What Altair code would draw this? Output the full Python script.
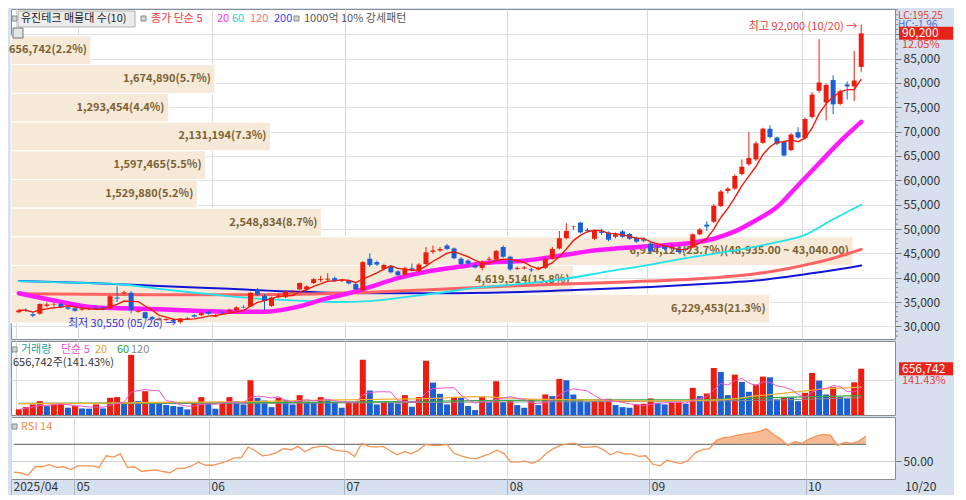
import altair as alt
import pandas as pd
import numpy as np

FONT = "Noto Sans CJK KR"
RED = "#ee1c0e"
BLUE = "#1a5fd4"

# ---------------- data ----------------
month_bounds = [-0.4, 8.5, 27.5, 46.5, 69.5, 89.5, 111.5]
month_labels = ["2025/04", "05", "06", "07", "08", "09", "10"]
last_date = "10/20"
hi_date = "10/20"
lo_date = "05/26"

opens = [
    32900, 33400, 32500, 32600, 34200, 34400, 34600, 33900, 33700, 33400,
    33500, 33800, 33900, 33700, 35900, 36800, 36900, 33000, 32900, 31900,
    31400, 31300, 31300, 30900, 31700, 32300, 32300, 33000, 32000, 32800,
    33000, 33300, 34000, 34100, 37600, 36300, 34200, 36000, 36000, 37000,
    37600, 37600, 38900, 39500, 39600, 39900, 39300, 39400, 38700, 37400,
    43900, 43200, 41800, 42400, 41300, 40600, 41900, 41300, 42800, 45300,
    45600, 46600, 46000, 43900, 43500, 42600, 42000, 43700, 43700, 46300,
    44300, 41800, 41900, 41700, 41700, 42000, 43900, 46000, 48100, 50500,
    51300, 49800, 48000, 49500, 49300, 48400, 49500, 49000, 48200, 47900,
    47000, 46400, 46500, 46100, 45900, 45900, 46300, 48900, 50900, 51500,
    54700, 57800, 58300, 61300, 63300, 64300, 67700, 70600, 68800, 67900,
    66200, 69900, 68700, 73000, 78400, 76000, 80600, 75700, 79700, 79300,
    83300]
highs = [
    33500, 33700, 32900, 34700, 34900, 34900, 35000, 34200, 33900, 33800,
    33900, 34100, 34000, 36400, 38200, 37300, 37200, 33500, 33000, 32100,
    31800, 31700, 31500, 31700, 31900, 32500, 32900, 33200, 32500, 33200,
    33600, 34100, 34300, 37000, 37900, 36600, 36100, 36700, 37500, 37500,
    39000, 38400, 39900, 40400, 40900, 40200, 39700, 39600, 38900, 43400,
    45000, 43500, 42900, 42600, 41500, 42300, 42900, 43000, 46300, 46600,
    46300, 46900, 46200, 44200, 43800, 42900, 43600, 44300, 45700, 46600,
    44500, 42300, 42400, 42000, 42300, 44200, 46300, 49600, 51200, 50700,
    51500, 50200, 49800, 50000, 49500, 49300, 49800, 49200, 48400, 48200,
    47300, 46900, 46700, 46700, 46100, 46200, 49100, 50200, 51600, 55100,
    58000, 58600, 61200, 64300, 69900, 68000, 70800, 71300, 69000, 68200,
    69700, 70900, 72900, 78100, 89000, 79900, 81600, 78600, 80300, 86600,
    92000]
lows = [
    32700, 33000, 31900, 32400, 33900, 34100, 33700, 33400, 33000, 33200,
    33300, 33400, 33300, 33500, 35000, 36600, 32700, 32800, 31500, 31300,
    31200, 31100, 30800, 30550, 31400, 31800, 32100, 32400, 31900, 32500,
    32800, 33200, 33700, 34000, 36200, 33300, 34000, 35800, 35800, 36800,
    37400, 37300, 38700, 39100, 39300, 39100, 39100, 38600, 37400, 37300,
    42200, 42400, 41500, 40900, 40300, 40400, 41300, 41100, 42600, 44900,
    45300, 45700, 43800, 42500, 42600, 41900, 41500, 43400, 43500, 44100,
    41400, 41600, 41700, 41100, 41500, 41800, 43700, 45800, 47900, 49800,
    49100, 49300, 47700, 48800, 47500, 48100, 48200, 47800, 47200, 47300,
    45100, 45500, 45600, 45600, 45100, 45400, 46100, 48700, 49600, 51200,
    54500, 57300, 58000, 61000, 63000, 64000, 67500, 68600, 67200, 64900,
    66000, 68500, 68400, 72700, 78000, 72300, 73600, 75400, 76600, 76300,
    82300]
closes = [
    33300, 33300, 32200, 34600, 34500, 34500, 33900, 33600, 33200, 33600,
    33600, 33600, 33500, 36200, 35700, 37000, 33300, 33200, 31700, 31500,
    31600, 31500, 31000, 31600, 31600, 32000, 32700, 32600, 32300, 32700,
    33400, 33900, 33900, 36900, 36500, 35200, 35900, 36300, 37200, 37100,
    38900, 38200, 39700, 39700, 39800, 39300, 39500, 38800, 37600, 43200,
    42600, 42700, 42600, 41100, 40500, 41900, 41500, 42700, 45200, 45600,
    45900, 45900, 44000, 42800, 42900, 42100, 43200, 43900, 45500, 44300,
    41700, 42000, 42100, 41500, 42000, 43900, 45900, 48100, 49600, 50600,
    49300, 49600, 49600, 49200, 47800, 48900, 48400, 48000, 47400, 47600,
    45400, 46200, 45900, 46000, 45300, 45700, 48900, 49900, 50500, 54800,
    57700, 58300, 60900, 62800, 64600, 67600, 70600, 68900, 67500, 65100,
    69400, 68800, 72600, 77600, 80100, 79600, 75600, 78300, 79300, 80500,
    90200]
volumes = [
    80000, 112000, 150000, 197000, 126000, 150000, 155000, 103000, 126000, 93000,
    90000, 150000, 93000, 244000, 254000, 174000, 854000, 197000, 338000, 174000,
    160000, 141000, 127000, 117000, 80000, 174000, 254000, 160000, 89000, 174000,
    254000, 197000, 150000, 493000, 244000, 207000, 112000, 244000, 216000, 150000,
    282000, 190000, 170000, 254000, 216000, 183000, 103000, 174000, 188000, 784000,
    347000, 150000, 180000, 172000, 165000, 282000, 117000, 254000, 770000, 460000,
    300000, 150000, 254000, 244000, 127000, 70000, 254000, 188000, 479000, 183000,
    197000, 141000, 103000, 221000, 141000, 291000, 268000, 512000, 493000, 291000,
    221000, 183000, 202000, 207000, 230000, 141000, 112000, 103000, 150000, 160000,
    235000, 174000, 150000, 174000, 178000, 160000, 385000, 268000, 305000, 667000,
    610000, 282000, 573000, 470000, 329000, 432000, 545000, 535000, 221000, 254000,
    250000, 197000, 315000, 596000, 488000, 291000, 395000, 254000, 235000, 464355,
    656742]
rsi14 = [
    36.8, 35.7, 33.0, 43.2, 43.2, 45.8, 42.4, 43.2, 39.8, 44.3,
    44.3, 44.3, 42.4, 56.4, 54.9, 58.7, 42.4, 43.2, 37.5, 38.7,
    39.4, 37.5, 36.0, 41.3, 41.3, 44.3, 48.8, 45.0, 45.0, 47.3,
    50.0, 53.8, 53.8, 66.9, 62.4, 56.4, 57.5, 60.2, 65.1, 63.2,
    67.7, 61.3, 65.8, 67.7, 67.7, 63.2, 62.4, 61.3, 55.6, 71.4,
    67.7, 66.9, 67.7, 62.4, 57.5, 61.3, 58.7, 63.2, 70.0, 68.8,
    68.8, 70.0, 59.4, 56.4, 53.8, 52.7, 55.6, 58.7, 63.2, 59.4,
    48.8, 48.8, 50.0, 47.3, 51.1, 59.4, 65.1, 68.8, 70.7, 71.4,
    66.9, 66.9, 67.7, 63.9, 57.5, 61.3, 58.7, 58.7, 55.6, 56.4,
    46.2, 44.3, 51.1, 48.8, 47.0, 51.1, 60.2, 63.9, 65.1, 75.2,
    78.2, 79.0, 81.2, 82.7, 83.9, 85.8, 88.8, 82.0, 76.4, 68.8,
    73.7, 71.4, 76.4, 80.1, 82.0, 81.2, 68.8, 72.6, 71.4, 73.7,
    80.1]

# moving averages (price)
ma20_idx = [0, 5, 10, 15, 20, 25, 30, 35, 40, 44, 47, 49, 54, 58, 63,
            68, 72, 77, 81, 86, 90, 95, 99, 102, 105, 108, 111, 114, 117, 120]
ma20_val = [36800, 35300, 34000, 33700, 33500, 33200, 33000, 33000, 34100, 35800,
            36800, 37600, 39900, 41200, 42300, 43200, 43500, 44500, 45400, 46100,
            46500, 47000, 48000, 49500, 51800, 54500, 59000, 63500, 68000, 72000]
ma60_idx = [0, 10, 15, 20, 25, 33, 40, 45, 50, 55, 60, 65, 70, 77, 84, 90, 95, 102, 108, 112, 116, 120]
ma60_val = [39300, 38900, 38600, 37700, 36900, 35800, 35300, 35000, 35200, 36000, 36900, 37900,
            38500, 39600, 41300, 42700, 44000, 45600, 47300, 48800, 52000, 55000]
ma120_idx = [0, 10, 20, 30, 40, 50, 60, 70, 80, 90, 100, 105, 110, 115, 120]
ma120_val = [36700, 36600, 36500, 36500, 36600, 37000, 37600, 38300, 38800, 39300,
             40100, 40800, 42000, 43600, 45800]
ma200_idx = [0, 10, 20, 30, 40, 50, 60, 70, 80, 90, 100, 105, 110, 115, 120]
ma200_val = [39300, 38900, 38300, 37700, 37100, 36800, 36800, 37000, 37500, 38100,
             38900, 39400, 40300, 41300, 42500]

# volume moving averages
vma20_idx = [0, 10, 20, 30, 40, 50, 60, 65, 72, 80, 90, 100, 105, 110, 115, 120]
vma20_val = [160000, 165000, 180000, 185000, 205000, 220000, 240000, 260000, 230000,
             215000, 200000, 215000, 270000, 320000, 370000, 395000]
vma60_idx = [0, 30, 50, 65, 80, 95, 105, 120]
vma60_val = [165000, 175000, 185000, 205000, 215000, 215000, 240000, 275000]
vma120_idx = [0, 40, 70, 100, 120]
vma120_val = [160000, 168000, 185000, 200000, 245000]

# volume profile (top band first)
profile_vol = [656742, 1674890, 1293454, 2131194, 1597465, 1529880, 2548834, 6914124, 4619514, 6229453]
profile_pct = [2.2, 5.7, 4.4, 7.3, 5.5, 5.2, 8.7, 23.7, 15.8, 21.3]
profile_bottom = 30700
profile_step = 5895
profile_max_range = (48935.00, 43040.00)

price_ticks = [30000, 35000, 40000, 45000, 50000, 55000, 60000, 65000, 70000, 75000, 80000, 85000, 90000]
price_minor_step = 1000
lc_text = "LC:195.25"
hc_text = "HC:-1.96"

# ---------------- frames ----------------
n = len(closes)
assert all(len(a) == n for a in [opens, highs, lows, volumes, rsi14])
df = pd.DataFrame({"i": np.arange(n), "open": opens, "high": highs, "low": lows,
                   "close": closes, "vol": volumes, "rsi": rsi14})
df["dir"] = np.where(df["close"] >= df["open"], "up", "down")
prev = df["vol"].shift(1).fillna(0)
df["vdir"] = np.where(df["vol"] >= prev, "up", "down")

labels = []
imax = int(np.argmax(profile_vol))
for k, (v, p) in enumerate(zip(profile_vol, profile_pct)):
    s = f"{v:,}({p:.1f}%)"
    if k == imax:
        s += f"({profile_max_range[0]:,.2f} ~ {profile_max_range[1]:,.2f})"
    labels.append(s)
nb = len(profile_vol)
band_hi = [profile_bottom + (nb - k) * profile_step for k in range(nb)]
pdf = pd.DataFrame({"vol": profile_vol, "hi": band_hi,
                    "lo": [h - profile_step for h in band_hi],
                    "mid": [h - profile_step / 2 for h in band_hi],
                    "label": labels, "x0": 0})

one = pd.DataFrame({"k": [0]})

# ---------------- layout ----------------
W, H1, H2, H3 = 884, 330, 74, 62
XDOM = [-0.4, 124.1]
xs = alt.Scale(domain=XDOM, nice=False, zero=False)
x_axis_plain = alt.Axis(values=month_bounds, grid=True, gridColor="#d9d9d9", labels=False,
                        ticks=False, domain=False, title=None)
lab_expr = " : ".join(f"abs(datum.value - ({b})) < 0.01 ? '{m}'" for b, m in zip(month_bounds, month_labels)) + " : ''"
x_axis_bottom = alt.Axis(values=month_bounds, grid=True, gridColor="#d9d9d9", labelExpr=lab_expr,
                         labelAlign="left", labelBaseline="top", labelPadding=-13, tickSize=15,
                         tickColor="#aab4c2", domain=False, labelFlush=False, labelOverlap=False,
                         labelFontSize=12, labelColor="#333333", labelOffset=2, title=None)


def X(field, axis=x_axis_plain):
    return alt.X(f"{field}:Q", scale=xs, axis=axis)


YDOM_P = [27400, 95200]
ys_p = alt.Scale(domain=YDOM_P, nice=False, zero=False)
y_axis_p = alt.Axis(orient="right", values=price_ticks,
                    labelExpr=f"datum.value >= {price_ticks[-1]} ? '' : format(datum.value, ',d')",
                    grid=True, gridColor="#e0e0e0", tickColor="#777777", tickSize=6, labelPadding=2,
                    labelOverlap=False, labelFlush=False,
                    domain=False, title=None, labelFontSize=12, labelColor="#333333")


def YP(field):
    return alt.Y(f"{field}:Q", scale=ys_p, axis=y_axis_p)


ys_v = alt.Scale(domain=[0, 1050000], nice=False, zero=True)
y_axis_v = alt.Axis(orient="right", values=[500000], labels=False, ticks=False, grid=True,
                    gridColor="#d9d9d9", domain=False, title=None)


def YV(field):
    return alt.Y(f"{field}:Q", scale=ys_v, axis=y_axis_v)


ys_r = alt.Scale(domain=[28.5, 103], nice=False, zero=False)
y_axis_r = alt.Axis(orient="right", values=[50], format=".2f", grid=True, gridColor="#d0d0d0",
                    tickColor="#777777", tickSize=6, labelPadding=2, domain=False, title=None,
                    labelFontSize=12, labelColor="#333333", labelOverlap=False, labelFlush=False)


def YR(field):
    return alt.Y(f"{field}:Q", scale=ys_r, axis=y_axis_r)


def label(x, y, text, color, size=11, align="left", weight="normal"):
    return alt.Chart(one).mark_text(text=text, align=align, baseline="middle", color=color,
                                    fontSize=size, fontWeight=weight).encode(
        x=alt.value(x), y=alt.value(y))


def box(x1, x2, y1, y2, fill, stroke=""):
    kw = {"fill": fill}
    if stroke:
        kw["stroke"] = stroke
        kw["strokeWidth"] = 1
    return alt.Chart(one).mark_rect(**kw).encode(x=alt.value(x1), x2=alt.value(x2),
                                                 y=alt.value(y1), y2=alt.value(y2))


def ma_line(idx, val, color, width, yfun):
    d = pd.DataFrame({"i": idx, "v": val})
    return alt.Chart(d).mark_line(color=color, strokeWidth=width, interpolate="monotone",
                                  strokeCap="round").encode(x=X("i"), y=yfun("v"))


def value_tag(value, half, yfun, pct_text, fmt_value):
    """red tag in the right-hand axis strip with the latest value and its change"""
    d = pd.DataFrame({"v": [value], "t": [value + half], "b": [value - half],
                      "s": [fmt_value], "p": [pct_text]})
    base = alt.Chart(d)
    rect = base.mark_rect(fill="#e8231a").encode(
        x=alt.value(W + 4), x2=alt.value(W + 58), y=yfun("t"), y2="b:Q")
    txt = base.mark_text(align="left", baseline="middle", color="white", fontSize=12).encode(
        x=alt.value(W + 7), y=yfun("v"), text="s:N")
    pct = base.mark_text(align="left", baseline="middle", color="#e8413a", fontSize=11, dy=12).encode(
        x=alt.value(W + 7), y=yfun("v"), text="p:N")
    return rect, txt, pct


ccol = alt.Color("dir:N", scale=alt.Scale(domain=["up", "down"], range=[RED, BLUE]), legend=None)
vcol = alt.Color("vdir:N", scale=alt.Scale(domain=["up", "down"], range=[RED, BLUE]), legend=None)

# ---------------- price panel ----------------
xprof = alt.Scale(domain=[0, 7259000], nice=False, zero=False)
prof_rect = alt.Chart(pdf).mark_rect(fill="#f6e9d8", stroke="white", strokeWidth=1).encode(
    x=alt.X("x0:Q", scale=xprof, axis=None), x2="vol:Q", y=YP("lo"), y2="hi:Q")
prof_text = alt.Chart(pdf).mark_text(align="right", baseline="middle", dx=-4, color="#7a6232",
                                     fontSize=11, fontWeight="bold").encode(
    x=alt.X("vol:Q", scale=xprof, axis=None), y=YP("mid"), text="label:N")
profile = alt.layer(prof_rect, prof_text)

wicks = alt.Chart(df).mark_rule(strokeWidth=1).encode(x=X("i"), y=YP("low"), y2="high:Q", color=ccol)
bodies = alt.Chart(df).mark_bar(size=5).encode(x=X("i"), y=YP("open"), y2="close:Q", color=ccol)
ma5 = alt.Chart(df).transform_window(ma5="mean(close)", frame=[-4, 0], sort=[alt.SortField("i")]).mark_line(
    color=RED, strokeWidth=1.4).encode(x=X("i"), y=YP("ma5"))

hi_i = int(np.argmax(highs))
lo_i = int(np.argmin(lows))
hi_txt = alt.Chart(pd.DataFrame({"i": [hi_i], "v": [highs[hi_i]]})).mark_text(
    text=f"최고 {highs[hi_i]:,} ({hi_date}) →", align="right", baseline="middle", dx=-4, dy=2,
    color="#e8413a", fontSize=11).encode(x=X("i"), y=YP("v"))
lo_txt = alt.Chart(pd.DataFrame({"i": [lo_i], "v": [lows[lo_i]]})).mark_text(
    text=f"최저 {lows[lo_i]:,} ({lo_date}) →", align="right", baseline="middle", dx=-4, dy=0,
    color="#3434d8", fontSize=11).encode(x=X("i"), y=YP("v"))

# minor ticks on the right-hand price scale
minor = [v for v in range(price_ticks[0] - 2 * price_minor_step, int(YDOM_P[1]), price_minor_step)
         if v not in price_ticks]
minor_ticks = alt.Chart(pd.DataFrame({"v": minor})).mark_rule(color="#888888", strokeWidth=1).encode(
    x=alt.value(W), x2=alt.value(W + 3), y=YP("v"))

ph = (YDOM_P[1] - YDOM_P[0]) / H1
chg = (closes[-1] / closes[-2] - 1) * 100
p_rect, p_txt, p_pct = value_tag(closes[-1], 6.5 * ph, YP, f"{chg:.2f}%", f"{closes[-1]:,}")

main = alt.layer(
    ma_line(ma200_idx, ma200_val, "#1414d8", 2, YP),
    ma_line(ma120_idx, ma120_val, "#ff6262", 3, YP),
    ma_line(ma60_idx, ma60_val, "#1fe4ee", 1.8, YP),
    ma_line(ma20_idx, ma20_val, "#ff1aff", 4.5, YP),
    wicks, bodies, ma5, hi_txt, lo_txt, minor_ticks,
    box(1, 6, 7, 12, "#d4d4d4", "#888888"),
    box(7, 124, 2, 18, "#ececec", "#b0b0b0"),
    label(10, 10, "유진테크 매물대 수(10)", "#222222"),
    box(130, 135, 7, 12, "#d4d4d4", "#888888"),
    label(140, 10, "종가 단순 5", "#f03a3a"),
    label(206, 10, "20", "#ff33ff"),
    label(221, 10, "60", "#22d4dd"),
    label(239, 10, "120", "#ff7070"),
    label(263, 10, "200", "#3a3aff"),
    box(283, 288, 7, 12, "#d4d4d4", "#888888"),
    label(293, 10, "1000억 10% 강세패턴", "#555555"),
    box(2, 12, 19, 29, "#e4e4e4", "#777777"),
    label(W + 3, 7, lc_text, "#e8413a", size=10),
    label(W + 3, 16, hc_text, "#3a6fe0", size=10),
    p_rect, p_txt, p_pct,
)

price = alt.layer(profile, main).resolve_scale(x="independent").properties(width=W, height=H1)

# ---------------- volume panel ----------------
vh = 1050000 / H2
vbars = alt.Chart(df).mark_bar(size=6).encode(x=X("i"), y=YV("vol"), color=vcol)
vma5 = alt.Chart(df).transform_window(vma5="mean(vol)", frame=[-4, 0], sort=[alt.SortField("i")]).mark_line(
    color="#ee55cc", strokeWidth=1).encode(x=X("i"), y=YV("vma5"))
last_vol = volumes[-1]
vol_pct = last_vol / volumes[-2] * 100
v_rect, v_txt, v_pct = value_tag(last_vol, 6.5 * vh, YV, f"{vol_pct:.2f}%", f"{last_vol:,}")

vol = alt.layer(
    vbars,
    ma_line(vma120_idx, vma120_val, "#8c8c8c", 1, YV),
    ma_line(vma60_idx, vma60_val, "#35a845", 1.2, YV),
    ma_line(vma20_idx, vma20_val, "#f2b030", 1.2, YV),
    vma5,
    box(1, 6, 6, 11, "#d4d4d4", "#888888"),
    label(10, 9, "거래량", "#2aa0a0"),
    label(50, 9, "단순 5", "#f050d0"),
    label(84, 9, "20", "#f0a020"),
    label(106, 9, "60", "#2ca02c"),
    label(120, 9, "120", "#888888"),
    label(2, 22, f"{last_vol:,}주({vol_pct:.2f}%)", "#333333"),
    v_rect, v_txt, v_pct,
).properties(width=W, height=H2)

# ---------------- RSI panel ----------------
rsi_df = df.assign(top=np.maximum(df["rsi"], 70), base=70)
rsi_area = alt.Chart(rsi_df).mark_area(color="#f5b48a", opacity=0.9).encode(
    x=X("i", x_axis_bottom), y=YR("top"), y2="base:Q")
rule70 = alt.Chart(rsi_df).mark_line(color="#7d7d7d", strokeWidth=1.2).encode(
    x=X("i", x_axis_bottom), y=YR("base"))
rsi_line = alt.Chart(rsi_df).mark_line(color="#f59455", strokeWidth=1.3).encode(
    x=X("i", x_axis_bottom), y=YR("rsi"))
rsi = alt.layer(
    rsi_area, rule70, rsi_line,
    box(1, 6, 7, 12, "#d4d4d4", "#888888"),
    label(10, 10, "RSI 14", "#f08a4a"),
    label(W + 10, H3 + 8, last_date, "#333333", size=12),
).properties(width=W, height=H3)

chart = alt.vconcat(price, vol, rsi, spacing=0).resolve_scale(
    x="independent", y="independent", color="independent"
).properties(
    padding={"left": 0, "right": 0, "top": 0, "bottom": 0}
).configure(background="#d6e0ee").configure_view(
    fill="white", stroke="#8c8c8c", strokeWidth=1
).configure_axis(labelFont=FONT).configure_text(font=FONT)

chart.save("out.html", embed_options={"renderer": "svg", "actions": False})
